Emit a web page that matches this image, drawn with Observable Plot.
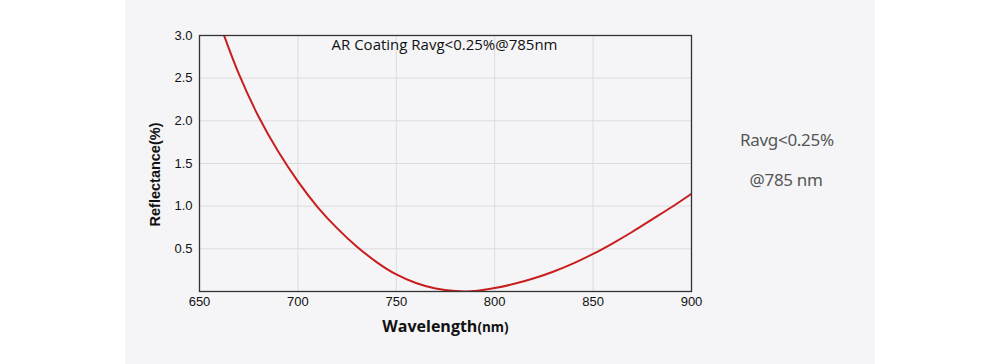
<!DOCTYPE html>
<html>
<head>
<meta charset="utf-8">
<script src="https://cdn.jsdelivr.net/npm/d3@7"></script>
<script src="https://cdn.jsdelivr.net/npm/@observablehq/plot@0.6"></script>
<style>
  html, body { margin: 0; padding: 0; background: #ffffff; }
  #wrap {
    position: relative; width: 1000px; height: 364px; overflow: hidden;
    background: linear-gradient(to right, #ffffff 0px, #ffffff 125px, #f5f5f7 125px, #f5f5f7 875px, #ffffff 875px);
  }
  #wrap svg { position: absolute; left: 0; top: 0; background: transparent; }
  .note {
    position: absolute; font-family: "Noto Sans", sans-serif; font-size: 17px;
    color: #555; white-space: nowrap; letter-spacing: -0.3px;
  }
</style>
</head>
<body>
<div id="wrap"></div>
<script>
// Reflectance curve
const wavelength = [662.5, 670, 680, 690, 700, 710, 720, 730, 740, 750, 760, 770, 780, 785, 790, 800, 810, 820, 830, 840, 850, 860, 870, 880, 890, 900];
const reflectance = [3.0, 2.55, 2.05, 1.64, 1.29, 0.99, 0.74, 0.525, 0.345, 0.20, 0.10, 0.035, 0.005, 0.0, 0.005, 0.04, 0.09, 0.155, 0.235, 0.33, 0.44, 0.565, 0.70, 0.845, 0.99, 1.145];
const xTicks = [650, 700, 750, 800, 850, 900];
const yTicks = [0.5, 1.0, 1.5, 2.0, 2.5, 3.0];
const xGrid = [700, 750, 800, 850];
const yGrid = [0.5, 1.0, 1.5, 2.0, 2.5];
const chartTitle = "AR Coating Ravg<0.25%@785nm";
const sideNotes = ["Ravg<0.25%", "@785 nm"];
const xLabel = "Wavelength";
const xUnit = "(nm)";
const yLabel = "Reflectance(%)";

const data = wavelength.map((w, i) => ({w, r: reflectance[i]}));

const chart = Plot.plot({
  width: 1000,
  height: 364,
  marginLeft: 199,
  marginRight: 309,
  marginTop: 35,
  marginBottom: 73,
  style: {background: "transparent", fontFamily: "'Liberation Sans', Arial, sans-serif", fontSize: "13px", color: "#111"},
  x: {domain: [650, 900]},
  y: {domain: [0, 3]},
  marks: [
    Plot.gridX(xGrid, {stroke: "#dcdcdf", strokeOpacity: 1, strokeWidth: 1}),
    Plot.gridY(yGrid, {stroke: "#dcdcdf", strokeOpacity: 1, strokeWidth: 1}),
    Plot.axisX({ticks: xTicks, tickSize: 0, tickPadding: 5, fontSize: 13, label: xLabel + xUnit, labelAnchor: "center", labelArrow: "none", labelOffset: 40}),
    Plot.axisY({ticks: yTicks, tickSize: 0, tickPadding: 7, tickFormat: d3.format(".1f"), fontSize: 13, label: yLabel, labelAnchor: "center", labelArrow: "none", labelOffset: 50}),
    Plot.line(data, {x: "w", y: "r", stroke: "#c81e1e", strokeWidth: 2, curve: "natural", clip: true}),
    Plot.frame({stroke: "#333", strokeWidth: 1.3}),
    Plot.text([chartTitle], {text: d => d, frameAnchor: "top", dx: -1, dy: 4, lineAnchor: "top", fontFamily: "'Open Sans', sans-serif", fontSize: 15, fill: "#111"})
  ]
});

document.getElementById("wrap").appendChild(chart);

// style axis labels
const xl = chart.querySelector('g[aria-label="x-axis label"] text');
if (xl) {
  xl.textContent = "";
  xl.setAttribute("font-family", "'Open Sans', sans-serif");
  xl.setAttribute("font-weight", "bold");
  xl.setAttribute("font-size", "16");
  const t1 = document.createElementNS("http://www.w3.org/2000/svg", "tspan");
  t1.textContent = xLabel;
  const t2 = document.createElementNS("http://www.w3.org/2000/svg", "tspan");
  t2.textContent = xUnit;
  t2.setAttribute("font-size", "13.5");
  xl.appendChild(t1); xl.appendChild(t2);
}
const yl = chart.querySelector('g[aria-label="y-axis label"] text');
if (yl) {
  yl.setAttribute("font-weight", "bold");
  yl.setAttribute("font-size", "14.5");
  yl.setAttribute("dx", "-11");
}

// side notes
const wrap = document.getElementById("wrap");
const pos = [{cx: 787, top: 128}, {cx: 786, top: 168}];
sideNotes.forEach((s, i) => {
  const d = document.createElement("div");
  d.className = "note";
  d.textContent = s;
  wrap.appendChild(d);
  d.style.left = (pos[i].cx - d.offsetWidth / 2) + "px";
  d.style.top = pos[i].top + "px";
});
</script>
</body>
</html>
